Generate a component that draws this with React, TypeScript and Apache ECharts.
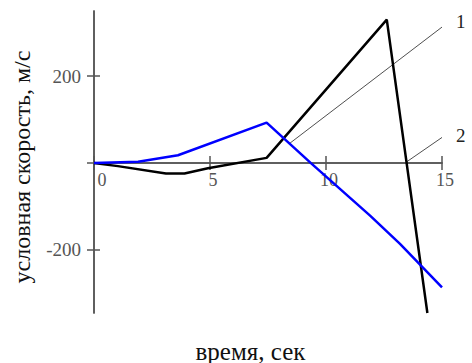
import React, { useEffect, useRef } from "react";
import * as echarts from "echarts";

const blackLine: [number, number][] = [
  [0, 0], [1.03, -7], [3.1, -24], [3.9, -24], [4.91, -12], [7.44, 12], [12.62, 330], [14.37, -345],
];
const blueLine: [number, number][] = [
  [0, 0], [1.9, 3], [3.62, 18], [7.44, 93], [9.35, 0], [11.9, -121], [13.19, -186], [15, -286],
];
const tangent1: [number, number][] = [[8.45, 46], [15, 313]];
const tangent2: [number, number][] = [[13.48, 3], [15, 59]];
const xTicks = [0, 5, 10, 15];
const yTicks = [-200, 0, 200];
const yLabels = [-200, 200];
const xTitle = "время, сек";
const yTitle = "условная скорость, м/с";

const FONT = "'Liberation Serif', 'Times New Roman', serif";

export default function App() {
  const ref = useRef<HTMLDivElement>(null);
  useEffect(() => {
    if (!ref.current) return;
    const chart = echarts.init(ref.current, null, { renderer: "svg" });
    const axisLineStyle = { color: "#555", width: 1.5 };
    const baseX = {
      type: "value" as const,
      min: 0,
      max: 15,
      splitLine: { show: false },
      axisLine: { show: true, onZero: true, onZeroAxisIndex: 0, lineStyle: axisLineStyle },
    };
    const baseY = {
      type: "value" as const,
      min: -345,
      max: 350,
      splitLine: { show: false },
      axisLine: { show: true, onZero: true, onZeroAxisIndex: 0, lineStyle: axisLineStyle },
    };
    chart.setOption({
      animation: false,
      grid: { left: 94, top: 11, right: 30, bottom: 50, containLabel: false },
      xAxis: [
        {
          ...baseX,
          axisTick: { show: true, inside: true, length: 7, customValues: xTicks, lineStyle: axisLineStyle },
          axisLabel: { show: false },
        },
        {
          ...baseX,
          position: "bottom",
          axisTick: { show: true, inside: false, length: 7, customValues: xTicks, lineStyle: axisLineStyle },
          axisLabel: { show: false },
        },
        {
          type: "value",
          min: 0,
          max: 15,
          position: "bottom",
          offset: -150,
          splitLine: { show: false },
          axisLine: { show: false, onZero: false },
          axisTick: { show: false },
          axisLabel: {
            show: true,
            customValues: xTicks,
            margin: 8,
            fontFamily: FONT,
            fontSize: 18,
            color: "#555",
            padding: [0, 0, 0, 6],
            formatter: (v: number) => (v === 0 ? "{z|0}" : String(v)),
            rich: { z: { fontFamily: FONT, fontSize: 18, color: "#555", padding: [0, 0, 0, 10] } },
          },
        },
      ],
      yAxis: [
        {
          ...baseY,
          axisTick: { show: true, inside: false, length: 7, customValues: yTicks, lineStyle: axisLineStyle },
          axisLabel: {
            show: true,
            customValues: yLabels,
            margin: 13,
            fontFamily: FONT,
            fontSize: 19,
            color: "#555",
            padding: [5, 0, 0, 0],
          },
        },
        {
          ...baseY,
          position: "left",
          axisTick: { show: true, inside: true, length: 6, customValues: yTicks, lineStyle: axisLineStyle },
          axisLabel: { show: false },
        },
      ],
      graphic: [
        {
          type: "text",
          x: 22,
          y: 167,
          rotation: Math.PI / 2,
          style: {
            text: yTitle,
            fontFamily: FONT,
            fontSize: 24,
            fill: "#111",
            align: "center",
            verticalAlign: "middle",
          },
        },
        {
          type: "text",
          x: 250.5,
          y: 351,
          style: {
            text: xTitle,
            fontFamily: FONT,
            fontSize: 25,
            fill: "#111",
            align: "center",
            verticalAlign: "middle",
          },
        },
      ],
      series: [
        {
          type: "line",
          data: tangent1,
          symbol: "none",
          lineStyle: { color: "#222", width: 0.8 },
          endLabel: { show: true, formatter: "1", distance: 14, offset: [0, -6], fontFamily: FONT, fontSize: 19, color: "#222" },
          z: 1,
        },
        {
          type: "line",
          data: tangent2,
          symbol: "none",
          lineStyle: { color: "#222", width: 0.8 },
          endLabel: { show: true, formatter: "2", distance: 14, offset: [0, -2], fontFamily: FONT, fontSize: 19, color: "#222" },
          z: 1,
        },
        {
          type: "line",
          data: blackLine,
          symbol: "none",
          lineStyle: { color: "#000", width: 2.5 },
          z: 3,
        },
        {
          type: "line",
          data: blueLine,
          symbol: "none",
          lineStyle: { color: "#0000ff", width: 2.5 },
          z: 4,
        },
      ],
    });
    return () => chart.dispose();
  }, []);
  return (
    <div
      ref={ref}
      style={{ position: "fixed", left: 0, top: 0, width: 472, height: 363, background: "#fff" }}
    />
  );
}
